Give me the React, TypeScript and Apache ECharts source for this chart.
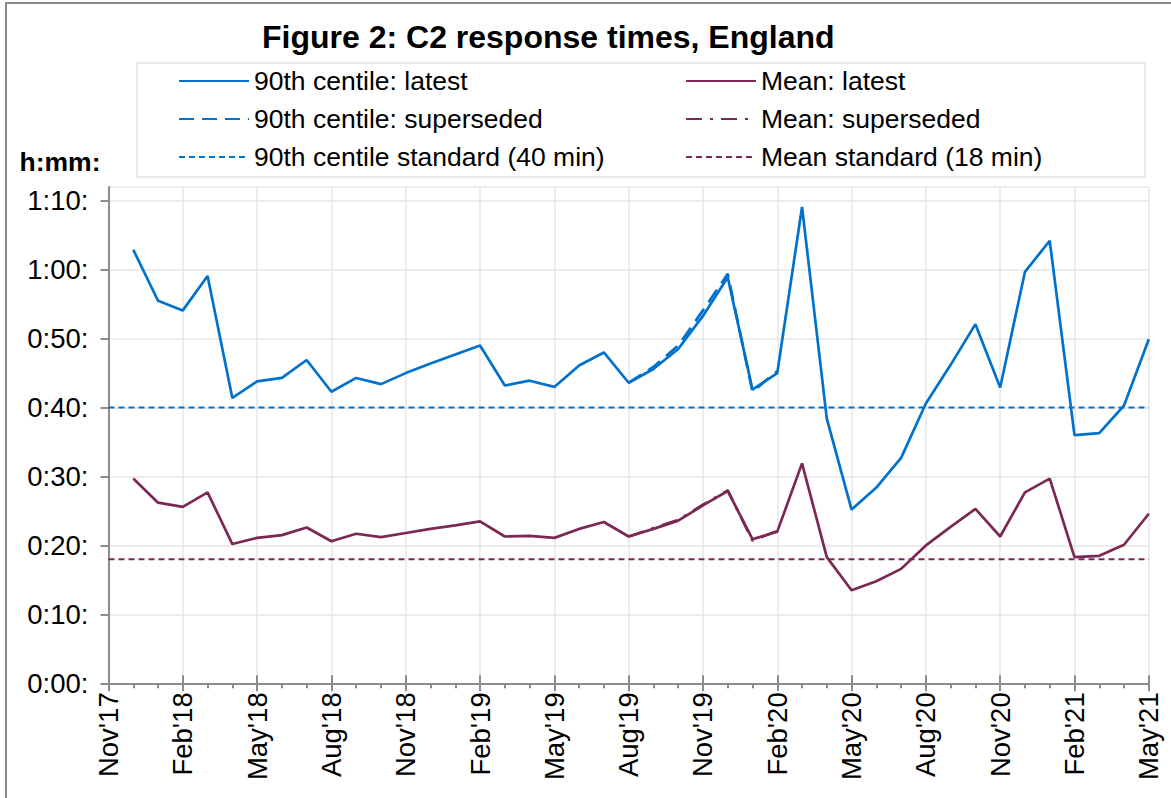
import React, { useEffect, useRef } from 'react';
import * as echarts from 'echarts';

const months = [
  "Nov'17", "Dec'17", "Jan'18", "Feb'18", "Mar'18", "Apr'18", "May'18", "Jun'18", "Jul'18", "Aug'18",
  "Sep'18", "Oct'18", "Nov'18", "Dec'18", "Jan'19", "Feb'19", "Mar'19", "Apr'19", "May'19", "Jun'19",
  "Jul'19", "Aug'19", "Sep'19", "Oct'19", "Nov'19", "Dec'19", "Jan'20", "Feb'20", "Mar'20", "Apr'20",
  "May'20", "Jun'20", "Jul'20", "Aug'20", "Sep'20", "Oct'20", "Nov'20", "Dec'20", "Jan'21", "Feb'21",
  "Mar'21", "Apr'21", "May'21",
];

// Monthly values (minutes), Dec'17 .. May'21
const dataMonths = months.slice(1);
const p90Latest = [
  62.9, 55.5, 54.1, 59.1, 41.4, 43.8, 44.3, 46.9, 42.3, 44.3,
  43.4, 45.0, 46.4, 47.7, 49.0, 43.2, 43.9, 43.0, 46.1, 48.0,
  43.6, 45.6, 48.5, 53.3, 58.9, 42.6, 45.0, 69.1, 38.4, 25.2,
  28.4, 32.7, 40.6, 46.2, 52.1, 42.9, 59.7, 64.2, 36.0, 36.3,
  40.3, 49.9,
];
const meanLatest = [
  29.7, 26.2, 25.6, 27.7, 20.2, 21.1, 21.5, 22.6, 20.6, 21.7,
  21.2, 21.8, 22.4, 22.9, 23.5, 21.3, 21.4, 21.1, 22.4, 23.4,
  21.3, 22.4, 23.6, 25.8, 27.9, 20.9, 22.0, 31.9, 18.3, 13.5,
  14.8, 16.6, 20.0, 22.7, 25.3, 21.3, 27.7, 29.7, 18.3, 18.5,
  20.1, 24.6,
];

const supersededMonths = ["Aug'19", "Sep'19", "Oct'19", "Nov'19", "Dec'19", "Jan'20", "Feb'20"];
const p90Superseded = [43.6, 45.9, 49.0, 54.1, 59.4, 42.3, 45.3];
const meanSuperseded = [21.3, 22.5, 23.7, 25.9, 28.0, 20.7, 22.1];

const standardMonths = ["Nov'17", "May'21"];
const p90Standard = 40;
const meanStandard = 18;

const seriesNames = [
  '90th centile: latest',
  '90th centile: superseded',
  '90th centile standard (40 min)',
  'Mean: latest',
  'Mean: superseded',
  'Mean standard (18 min)',
];

const BLUE = '#0072CE';
const PLUM = '#7C2855';
const FONT = '"Liberation Sans", Arial, sans-serif';
const AXIS_GREY = '#8c8c8c';
const GRID_GREY = '#e6e6e6';

const pairs = (ms: string[], vals: number[]) => ms.map((m, i) => [months.indexOf(m), vals[i]]);

const fmtTime = (v: number) => `${Math.floor(v / 60)}:${String(Math.round(v % 60)).padStart(2, '0')}:`;

export default function App() {
  const ref = useRef<HTMLDivElement>(null);

  useEffect(() => {
    if (!ref.current) return;
    const chart = echarts.init(ref.current, undefined, { renderer: 'svg' });

    const xCommon = {
      type: 'value',
      min: 0,
      max: months.length - 1,
      interval: 3,
    };

    const legendCommon = {
      orient: 'vertical',
      top: 62,
      itemWidth: 70,
      itemHeight: 14,
      itemGap: 10,
      itemStyle: { opacity: 0, color: 'transparent', borderColor: 'transparent', borderWidth: 0 },
      textStyle: { fontFamily: FONT, fontSize: 26.5, color: '#000', lineHeight: 28 },
    };

    const option: any = {
      animation: false,
      backgroundColor: '#fff',
      title: {
        text: 'Figure 2: C2 response times, England',
        left: 257,
        top: 16,
        textStyle: { fontFamily: FONT, fontWeight: 'bold', fontSize: 32, color: '#000' },
      },
      legend: [
        { ...legendCommon, left: 173, data: seriesNames.slice(0, 3) },
        { ...legendCommon, left: 680, data: seriesNames.slice(3) },
      ],
      graphic: [
        {
          type: 'rect',
          shape: { x: 6, y: 3, width: 1300, height: 900 },
          style: { fill: 'none', stroke: '#8a8a8a', lineWidth: 2 },
          silent: true,
        },
        {
          type: 'rect',
          shape: { x: 137, y: 63, width: 1008, height: 114 },
          style: { fill: 'none', stroke: '#e3e3e3', lineWidth: 1.5 },
          silent: true,
        },
      ],
      grid: { left: 108.5, right: 22.2, top: 187, bottom: 114.7, containLabel: false },
      xAxis: [
        {
          ...xCommon,
          position: 'bottom',
          axisLine: { show: true, onZero: false, lineStyle: { color: AXIS_GREY, width: 2 } },
          axisTick: { show: true, length: 8, lineStyle: { color: AXIS_GREY, width: 2 } },
          minorTick: { show: true, splitNumber: 3, length: 5, lineStyle: { color: AXIS_GREY, width: 2 } },
          axisLabel: {
            rotate: 90,
            margin: 9,
            fontFamily: FONT,
            fontSize: 27.5,
            color: '#000',
            formatter: (v: number) => months[v] ?? '',
          },
          splitLine: { show: true, lineStyle: { color: GRID_GREY, width: 1.5 } },
        },
        {
          ...xCommon,
          position: 'bottom',
          offset: 0,
          axisLine: { show: false, onZero: false },
          axisTick: { show: true, inside: true, length: 8, lineStyle: { color: AXIS_GREY, width: 2 } },
          axisLabel: { show: false },
          splitLine: { show: false },
        },
      ],
      yAxis: {
        type: 'value',
        min: 0,
        max: 72,
        interval: 10,
        name: 'h:mm:',
        nameLocation: 'end',
        nameGap: 25,
        nameTextStyle: {
          fontFamily: FONT,
          fontWeight: 'bold',
          fontSize: 26.5,
          color: '#000',
          align: 'right',
          verticalAlign: 'middle',
          padding: [0, 8, 0, 0],
        },
        axisLine: { show: true, lineStyle: { color: AXIS_GREY, width: 2 } },
        axisTick: { show: true, length: 8, lineStyle: { color: AXIS_GREY, width: 2 } },
        axisLabel: {
          showMaxLabel: false,
          margin: 20,
          fontFamily: FONT,
          fontSize: 27.5,
          color: '#000',
          formatter: (v: number) => (v > 70 ? '' : fmtTime(v)),
        },
        splitLine: { show: true, lineStyle: { color: GRID_GREY, width: 1.5 } },
      },
      series: [
        {
          name: seriesNames[2],
          type: 'line',
          symbol: 'none',
          z: 2,
          data: standardMonths.map((m) => [months.indexOf(m), p90Standard]),
          lineStyle: { color: BLUE, width: 2, type: [6, 4] },
          itemStyle: { color: BLUE },
        },
        {
          name: seriesNames[5],
          type: 'line',
          symbol: 'none',
          z: 2,
          data: standardMonths.map((m) => [months.indexOf(m), meanStandard]),
          lineStyle: { color: PLUM, width: 2, type: [6, 4] },
          itemStyle: { color: PLUM },
        },
        {
          name: seriesNames[1],
          type: 'line',
          symbol: 'none',
          z: 3,
          data: pairs(supersededMonths, p90Superseded),
          lineStyle: { color: BLUE, width: 2.7, type: [15, 8] },
          itemStyle: { color: BLUE },
        },
        {
          name: seriesNames[4],
          type: 'line',
          symbol: 'none',
          z: 3,
          data: pairs(supersededMonths, meanSuperseded),
          lineStyle: { color: PLUM, width: 2.7, type: [16, 8, 3, 8] },
          itemStyle: { color: PLUM },
        },
        {
          name: seriesNames[0],
          type: 'line',
          symbol: 'none',
          z: 4,
          data: pairs(dataMonths, p90Latest),
          lineStyle: { color: BLUE, width: 2.7 },
          itemStyle: { color: BLUE },
        },
        {
          name: seriesNames[3],
          type: 'line',
          symbol: 'none',
          z: 4,
          data: pairs(dataMonths, meanLatest),
          lineStyle: { color: PLUM, width: 2.7 },
          itemStyle: { color: PLUM },
        },
      ],
    };

    chart.setOption(option);
    return () => chart.dispose();
  }, []);

  return (
    <div
      ref={ref}
      style={{ position: 'absolute', left: 0, top: 0, width: 1171, height: 798 }}
    />
  );
}
